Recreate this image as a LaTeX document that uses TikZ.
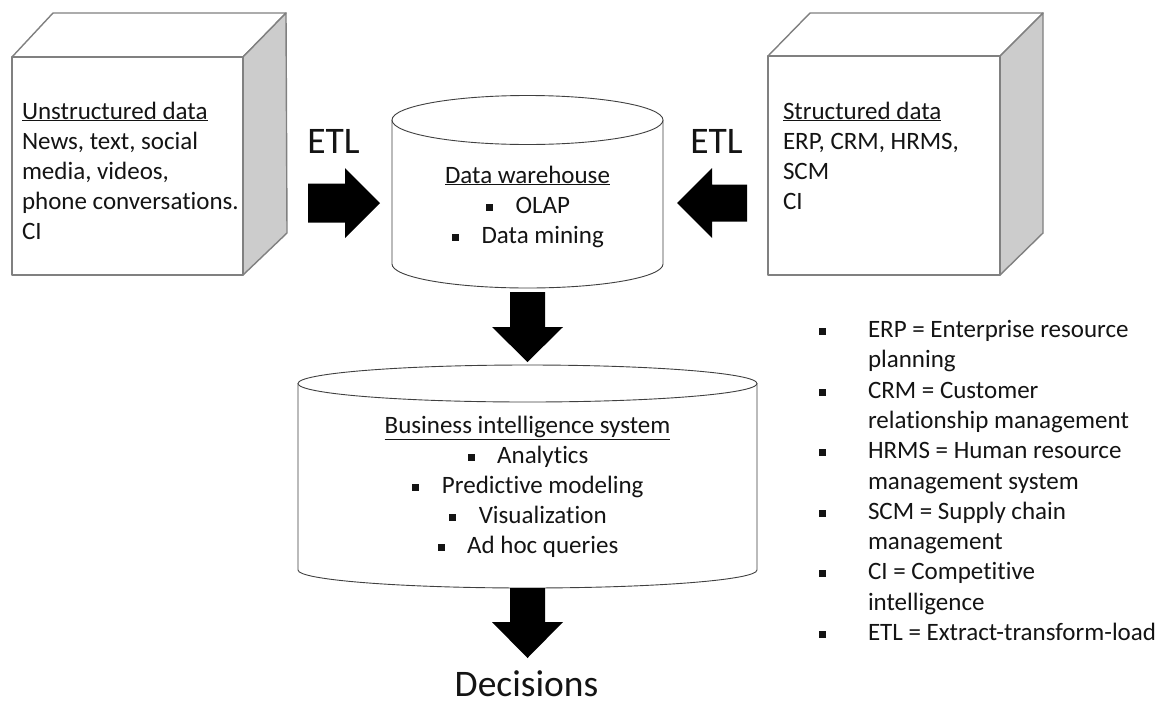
\documentclass[tikz,border=0pt]{standalone}
\usepackage{fontspec}
\setmainfont{Carlito}[Ligatures=NoCommon]
\usetikzlibrary{calc}
\definecolor{cubeline}{HTML}{808080}
\definecolor{cubeside}{HTML}{CCCCCC}
\definecolor{cylline}{HTML}{404040}
\newcommand\sqbul{\raisebox{2.5pt}{\rule{7pt}{7pt}}}
\newcommand\blt{\sqbul\hspace{22.5pt}}
\tikzset{
  txt/.style={inner sep=0pt, outer sep=0pt, font=\fontsize{25}{30}\selectfont, text=black!92},
  big/.style={inner sep=0pt, outer sep=0pt, font=\fontsize{37.5}{45}\selectfont, text=black!92},
  cubeface/.style={draw=cubeline, line width=1.4pt, line join=round, fill=white},
  cubesidestyle/.style={draw=cubeline, line width=1.4pt, line join=round, fill=cubeside},
  cyl/.style={draw=cylline, line width=0.9pt, fill=white},
  bigarrow/.style={fill=black}
}
\begin{document}
\begin{tikzpicture}[x=1pt,y=1pt]
\useasboundingbox (0,0) rectangle (1167,-702);
\fill[white] (0,0) rectangle (1167,-702);

% ---------- left cube (unstructured data)
\coordinate (LC) at (12,-57);
\draw[cubeface] (12,-57) -- (53,-13) -- (286,-13) -- (243,-57) -- cycle;
\draw[cubesidestyle] (243,-57) -- (286,-13) -- (287,-233) -- (243,-275) -- cycle;
\draw[cubeface] (12,-57) rectangle (243,-275);
\node[txt, anchor=base west] (u1) at (22,-119) {\underline{Unstructured data}};
\node[txt, anchor=base west] (u2) at (22,-149) {News, text, social};
\node[txt, anchor=base west] (u3) at (22,-179) {media, videos,};
\node[txt, anchor=base west] (u4) at (22,-209) {phone conversations.};
\node[txt, anchor=base west] (u5) at (22,-239) {CI};

% ---------- right cube (structured data)
\coordinate (RC) at (768,-56);
\draw[cubeface] (768,-56) -- (810,-13) -- (1043,-13) -- (1000,-56) -- cycle;
\draw[cubesidestyle] (1000,-56) -- (1043,-13) -- (1043,-233) -- (1000,-275) -- cycle;
\draw[cubeface] (768,-56) rectangle (1000,-275);
\node[txt, anchor=base west] (s1) at (783,-119) {\underline{Structured data}};
\node[txt, anchor=base west] (s2) at (783,-149) {ERP, CRM, HRMS,};
\node[txt, anchor=base west] (s3) at (783,-179) {SCM};
\node[txt, anchor=base west] (s4) at (783,-209) {CI};

% ---------- data warehouse cylinder
\coordinate (DW) at (527.5,-120);
\draw[cyl] (392,-120) -- (392,-264) arc[start angle=180, end angle=360, x radius=135.5pt, y radius=24pt] -- (663,-120);
\draw[cyl] (DW) ellipse [x radius=135.5pt, y radius=24.5pt];
\node[txt, anchor=base] (d1) at (527.5,-183) {\underline{Data warehouse}};
\node[txt, anchor=base] (d2) at (528,-213) {\blt OLAP};
\node[txt, anchor=base] (d3) at (528,-243) {\blt Data mining};

% ---------- business intelligence cylinder
\coordinate (BI) at (527.5,-383.5);
\draw[cyl] (298,-383.5) -- (298,-570) arc[start angle=180, end angle=360, x radius=229.5pt, y radius=18pt] -- (757,-383.5);
\draw[cyl] (BI) ellipse [x radius=229.5pt, y radius=18.5pt];
\node[txt, anchor=base] (b1) at (527.5,-433) {\underline{Business intelligence system}};
\node[txt, anchor=base] (b2) at (528,-463) {\blt Analytics};
\node[txt, anchor=base] (b3) at (528,-493) {\blt Predictive modeling};
\node[txt, anchor=base] (b4) at (528,-523) {\blt Visualization};
\node[txt, anchor=base] (b5) at (528,-553) {\blt Ad hoc queries};

% ---------- ETL labels
\node[big, anchor=base] (etlL) at (333.5,-153) {ETL};
\node[big, anchor=base] (etlR) at (716.5,-153) {ETL};

% ---------- block arrows
\coordinate (aL) at (308,-203);
\coordinate (aR) at (747,-203);
\coordinate (aM) at (527.5,-292);
\coordinate (aB) at (527.5,-588);
\begin{scope}[shift={(aL)}]
  \fill[bigarrow] (0,19.5) -- (37,19.5) -- (37,35) -- (72,0) -- (37,-35) -- (37,-19.5) -- (0,-19.5) -- cycle;
\end{scope}
\begin{scope}[shift={(aR)}, rotate=180]
  \fill[bigarrow] (0,18.5) -- (35,18.5) -- (35,35) -- (70,0) -- (35,-35) -- (35,-18.5) -- (0,-18.5) -- cycle;
\end{scope}
\begin{scope}[shift={(aM)}, rotate=-90]
  \fill[bigarrow] (0,17.5) -- (35,17.5) -- (35,35.5) -- (70,0) -- (35,-35.5) -- (35,-17.5) -- (0,-17.5) -- cycle;
\end{scope}
\begin{scope}[shift={(aB)}, rotate=-90]
  \fill[bigarrow] (0,17.5) -- (34,17.5) -- (34,35.5) -- (70,0) -- (34,-35.5) -- (34,-17.5) -- (0,-17.5) -- cycle;
\end{scope}

% ---------- Decisions
\node[big, anchor=base] (dec) at (526.5,-696) {Decisions};

% ---------- legend
\foreach \i/\b/\t in {0/1/{ERP = Enterprise resource},1/0/{planning},2/1/{CRM = Customer},3/0/{relationship management},4/1/{HRMS = Human resource},5/0/{management system},6/1/{SCM = Supply chain},7/0/{management},8/1/{CI = Competitive},9/0/{intelligence},10/1/{ETL = Extract-transform-load}}{
  \node[txt, anchor=base west] (leg\i) at (868,{-337.5-30.3*\i}) {\t};
  \ifnum\b=1
    \node[txt, anchor=base west] (legb\i) at (818.5,{-337.5-30.3*\i}) {\sqbul};
  \fi
}
\end{tikzpicture}
\end{document}
